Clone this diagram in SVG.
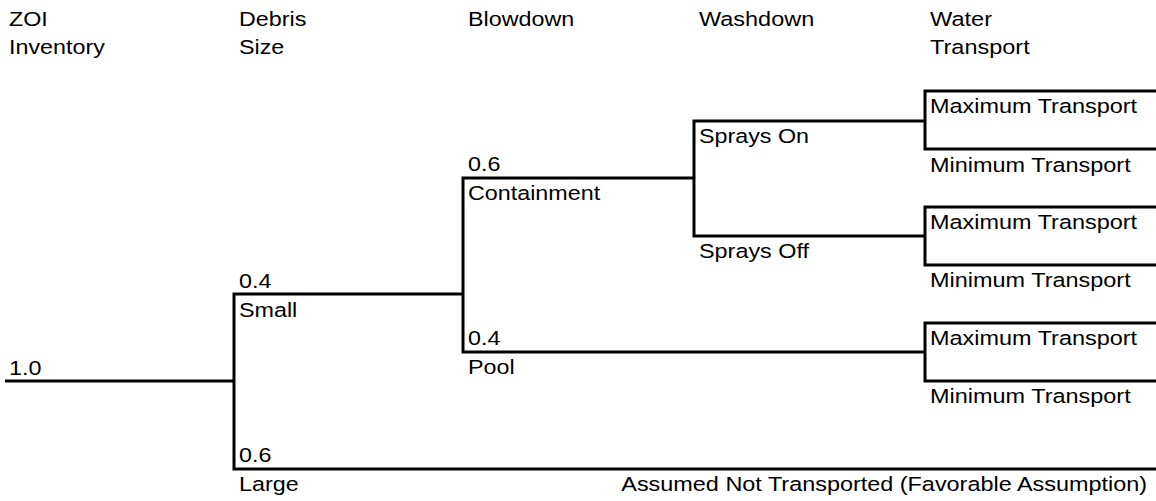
<svg xmlns="http://www.w3.org/2000/svg" width="1156" height="501" viewBox="0 0 1156 501">
<style>
text{font-family:"Liberation Sans",Arial,sans-serif;font-size:20.5px;fill:#000}
.ln{fill:none;stroke:#000;stroke-width:3}
</style>
<rect width="1156" height="501" fill="#fff"/>
<g id="connectors">
<path class="ln" d="M5,381 H234"/>
<path class="ln" d="M463,294 H234 V469 H1156"/>
<path class="ln" d="M694,178 H463 V352 H925"/>
<path class="ln" d="M925,121 H694 V236 H925"/>
<path class="ln" d="M1156,91 H925 V149 H1156"/>
<path class="ln" d="M1156,207 H925 V265 H1156"/>
<path class="ln" d="M1156,323 H925 V381 H1156"/>
</g>
<g id="headers">
<text x="9" y="26" textLength="38.8" lengthAdjust="spacingAndGlyphs">ZOI</text>
<text x="9" y="54" textLength="95.8" lengthAdjust="spacingAndGlyphs">Inventory</text>
<text x="239" y="26" textLength="67.3" lengthAdjust="spacingAndGlyphs">Debris</text>
<text x="239" y="54" textLength="45.3" lengthAdjust="spacingAndGlyphs">Size</text>
<text x="468" y="26" textLength="106.2" lengthAdjust="spacingAndGlyphs">Blowdown</text>
<text x="699" y="26" textLength="115.2" lengthAdjust="spacingAndGlyphs">Washdown</text>
<text x="930" y="26" textLength="62.1" lengthAdjust="spacingAndGlyphs">Water</text>
<text x="930" y="54" textLength="99.7" lengthAdjust="spacingAndGlyphs">Transport</text>
</g>
<g id="node-root"><text x="9" y="375" textLength="32.4" lengthAdjust="spacingAndGlyphs">1.0</text></g>
<g id="node-small">
<text x="239" y="288" textLength="32.4" lengthAdjust="spacingAndGlyphs">0.4</text>
<text x="239" y="317" textLength="58.3" lengthAdjust="spacingAndGlyphs">Small</text>
</g>
<g id="node-large">
<text x="239" y="462" textLength="32.4" lengthAdjust="spacingAndGlyphs">0.6</text>
<text x="239" y="491" textLength="59.6" lengthAdjust="spacingAndGlyphs">Large</text>
</g>
<g id="node-containment">
<text x="468" y="171" textLength="32.4" lengthAdjust="spacingAndGlyphs">0.6</text>
<text x="468" y="200" textLength="132.1" lengthAdjust="spacingAndGlyphs">Containment</text>
</g>
<g id="node-pool">
<text x="468" y="345" textLength="32.4" lengthAdjust="spacingAndGlyphs">0.4</text>
<text x="468" y="374" textLength="46.6" lengthAdjust="spacingAndGlyphs">Pool</text>
</g>
<g id="node-sprays-on"><text x="699" y="143" textLength="110.1" lengthAdjust="spacingAndGlyphs">Sprays On</text></g>
<g id="node-sprays-off"><text x="699" y="258" textLength="110.1" lengthAdjust="spacingAndGlyphs">Sprays Off</text></g>
<g id="node-transport-1">
<text x="930" y="113" textLength="207.1" lengthAdjust="spacingAndGlyphs">Maximum Transport</text>
<text x="930" y="172" textLength="200.7" lengthAdjust="spacingAndGlyphs">Minimum Transport</text>
</g>
<g id="node-transport-2">
<text x="930" y="229" textLength="207.1" lengthAdjust="spacingAndGlyphs">Maximum Transport</text>
<text x="930" y="287" textLength="200.7" lengthAdjust="spacingAndGlyphs">Minimum Transport</text>
</g>
<g id="node-transport-3">
<text x="930" y="345" textLength="207.1" lengthAdjust="spacingAndGlyphs">Maximum Transport</text>
<text x="930" y="403" textLength="200.7" lengthAdjust="spacingAndGlyphs">Minimum Transport</text>
</g>
<g id="node-not-transported">
<text x="1147" y="491" text-anchor="end" textLength="525.7" lengthAdjust="spacingAndGlyphs">Assumed Not Transported (Favorable Assumption)</text>
</g>
</svg>
